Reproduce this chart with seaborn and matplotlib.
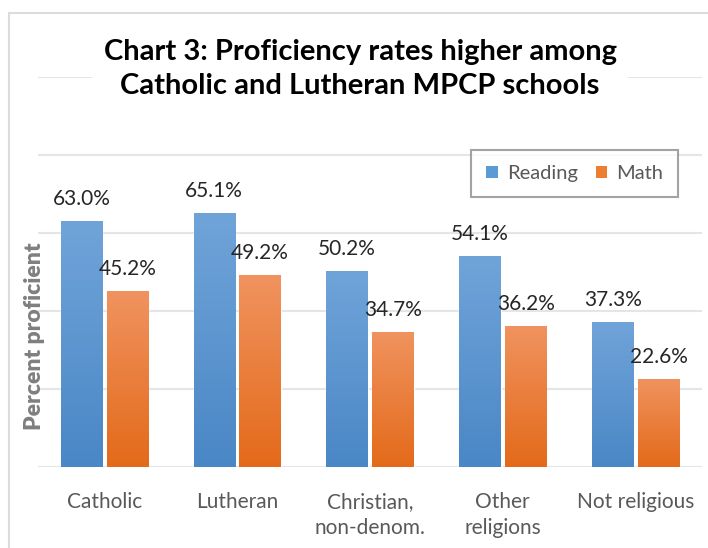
import numpy as np
import pandas as pd
import matplotlib
matplotlib.use("Agg")
import matplotlib.pyplot as plt
import seaborn as sns
from matplotlib.colors import LinearSegmentedColormap
from matplotlib.patches import Patch, Rectangle

categories = ["Catholic", "Lutheran", "Christian,\nnon-denom.", "Other\nreligions", "Not religious"]
reading = [63.0, 65.1, 50.2, 54.1, 37.3]
math_ = [45.2, 49.2, 34.7, 36.2, 22.6]
series = ["Reading", "Math"]

df = pd.DataFrame({
    "category": categories * 2,
    "value": reading + math_,
    "subject": ["Reading"] * len(categories) + ["Math"] * len(categories),
})

sns.set_theme(style="white")
plt.rcParams["font.family"] = ["Lato", "DejaVu Sans"]

W, H = 708, 548
fig = plt.figure(figsize=(W / 100, H / 100), dpi=100)
ax = fig.add_axes([38 / W, 1 - 467 / H, (702 - 38) / W, (467 - 77) / H])

base_cols = {"Reading": "#5b9bd5", "Math": "#ed7d31"}
grads = {"Reading": ("#4a87c6", "#70a4d9"), "Math": ("#e36a1a", "#f0935f")}

sns.barplot(data=df, x="category", y="value", hue="subject", hue_order=series,
            palette=base_cols, width=0.69, gap=0.1, ax=ax, legend=False,
            saturation=1, zorder=2)

ax.set_ylim(0, 100)
ax.set_xlim(-0.5, len(categories) - 0.5)
ax.set_yticks(np.arange(0, 101, 20))
ax.yaxis.grid(True, color="#e2e6ea", linewidth=1.5, zorder=0)
ax.set_axisbelow(True)
for s in ax.spines.values():
    s.set_visible(False)
ax.set_ylabel("")
ax.set_xlabel("")
ax.tick_params(axis="y", left=False, labelleft=False)
ax.tick_params(axis="x", bottom=False, pad=12, labelsize=15, labelcolor="#595959")
for lbl in ax.get_xticklabels():
    lbl.set_linespacing(1.35)

# gradient fills + value labels
for cont, name, vals in zip(ax.containers, series, [reading, math_]):
    cmap = LinearSegmentedColormap.from_list(name, list(grads[name]))
    for bar, v in zip(cont, vals):
        x0, y0 = bar.get_x(), bar.get_y()
        w, h = bar.get_width(), bar.get_height()
        g = np.linspace(0, 1, 256).reshape(-1, 1)
        im = ax.imshow(g, extent=[x0, x0 + w, y0, y0 + h], origin="lower",
                       aspect="auto", cmap=cmap, zorder=2.5)
        im.set_clip_path(bar)
        ax.annotate(f"{v:.1f}%", (x0 + w / 2, y0 + h), xytext=(0, 11.5),
                    textcoords="offset points", ha="center", va="baseline",
                    fontsize=15, color="#262626", zorder=4)

ax.set_ylim(0, 100)
ax.set_xlim(-0.5, len(categories) - 0.5)

handles = [Patch(facecolor=base_cols[s], edgecolor="none", label=s) for s in series]
leg = ax.legend(handles=handles, ncol=2, loc="upper right",
                bbox_to_anchor=(678 / W, 1 - 150 / H), bbox_transform=fig.transFigure,
                frameon=True, fancybox=False, fontsize=14.5, handlelength=0.55,
                handleheight=0.55, handletextpad=0.45, columnspacing=0.9,
                borderpad=0.75, borderaxespad=0, labelcolor="#595959")
leg.get_frame().set_edgecolor("#8c8c8c")
leg.get_frame().set_linewidth(1.5)

fig.text(360 / W, 1 - 69 / H,
         "Chart 3: Proficiency rates higher among\nCatholic and Lutheran MPCP schools",
         ha="center", va="center", fontsize=21, fontweight="bold", color="#000000",
         linespacing=1.35, zorder=5,
         bbox=dict(facecolor="white", edgecolor="none", pad=8))

fig.text(35 / W, 1 - 336 / H, "Percent proficient", rotation=90, ha="center",
         va="center", fontsize=16.5, fontweight="heavy", color="#7f7f7f")

fig.patches.append(Rectangle((9 / W, -0.2), 1.5, 1 - 13 / H + 0.2,
                             transform=fig.transFigure, facecolor="none",
                             edgecolor="#dcdcdc", linewidth=1.5, zorder=0))

fig.savefig("out.png", dpi=100)
